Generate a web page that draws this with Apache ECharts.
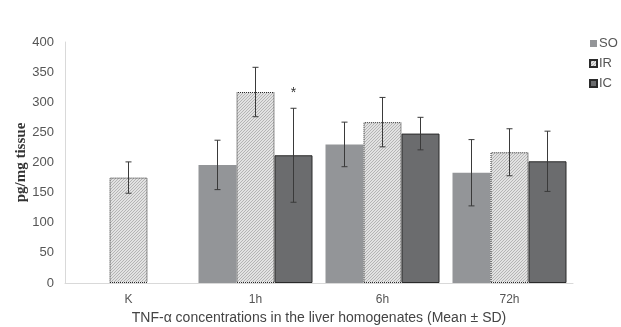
<!DOCTYPE html>
<html>
<head>
<meta charset="utf-8">
<script src="https://cdn.jsdelivr.net/npm/echarts@6/dist/echarts.min.js"></script>
<style>
  html, body { margin: 0; padding: 0; background: #fff; }
  #main { width: 621px; height: 327px; }
</style>
</head>
<body>
<div id="main"></div>
<script>
// data
let categories = ['K', '1h', '6h', '72h']
let soMean = [null, 196, 230, 183]
let soSD = [null, 41, 37, 55]
let irMean = [175, 317, 267, 217]
let irSD = [26, 41, 41, 39]
let icMean = [null, 212, 248, 202]
let icSD = [null, 78, 27, 50]
let icMarks = ['', '*', '', '']

let barW = 38

// fine diagonal hatch for IR
function hatch () {
  let c = document.createElement('canvas')
  c.width = 3
  c.height = 3
  let ctx = c.getContext('2d')
  ctx.fillStyle = '#e2e2e2'
  ctx.fillRect(0, 0, 3, 3)
  ctx.fillStyle = '#b4b4b4'
  ctx.fillRect(2, 0, 1, 1)
  ctx.fillRect(1, 1, 1, 1)
  ctx.fillRect(0, 2, 1, 1)
  return c
}

function errData (mean, sd, marks) {
  return mean.map(function (m, i) {
    if (m == null) return [i, null, null, '']
    return [i, m - sd[i], m + sd[i], marks ? marks[i] : '']
  })
}

function errSeries (mean, sd, idx, marks) {
  return {
    type: 'custom',
    name: 'err' + idx,
    data: errData(mean, sd, marks),
    z: 5,
    silent: true,
    renderItem: function (params, api) {
      if (api.value(1) == null || isNaN(api.value(1))) return
      let lo = api.coord([api.value(0), api.value(1)])
      let hi = api.coord([api.value(0), api.value(2)])
      let x = lo[0] + (idx - 1) * barW
      let cap = 3
      let st = { stroke: '#3a3a3a', lineWidth: 1 }
      let children = [
        { type: 'line', shape: { x1: x, y1: hi[1], x2: x, y2: lo[1] }, style: st },
        { type: 'line', shape: { x1: x - cap, y1: hi[1], x2: x + cap, y2: hi[1] }, style: st },
        { type: 'line', shape: { x1: x - cap, y1: lo[1], x2: x + cap, y2: lo[1] }, style: st }
      ]
      let mark = api.value(3)
      if (mark) {
        children.push({
          type: 'text',
          style: { text: mark, x: x, y: hi[1] - 22, align: 'center', verticalAlign: 'top', fontSize: 14, fontFamily: 'Arial', fill: '#333' }
        })
      }
      return { type: 'group', children: children }
    }
  }
}

let chart = echarts.init(document.getElementById('main'))
chart.setOption({
  animation: false,
  backgroundColor: '#fff',
  grid: { left: 65, right: 48, top: 42, bottom: 44, outerBoundsMode: 'none', containLabel: false },
  legend: {
    data: ['SO', 'IR', 'IC'],
    orient: 'vertical',
    left: 584,
    top: 32,
    itemWidth: 7,
    itemHeight: 7,
    itemGap: 7,
    icon: 'rect',
    textStyle: { fontFamily: 'Arial', fontSize: 13, color: '#555', padding: [0, 0, 0, -3] }
  },
  xAxis: {
    type: 'category',
    data: categories,
    axisLine: { lineStyle: { color: '#d9d9d9' } },
    axisTick: { show: false },
    axisLabel: { fontFamily: 'Arial', fontSize: 12, color: '#555', margin: 11 },
    name: 'TNF-\u03b1 concentrations in the liver homogenates (Mean \u00b1 SD)',
    nameLocation: 'middle',
    nameGap: 28,
    nameMoveOverlap: false,
    nameTextStyle: { fontFamily: 'Arial', fontSize: 14, color: '#444' }
  },
  yAxis: {
    type: 'value',
    min: 0,
    max: 400,
    interval: 50,
    axisLine: { show: true, lineStyle: { color: '#d9d9d9' } },
    axisTick: { show: false },
    splitLine: { show: false },
    axisLabel: { fontFamily: 'Arial', fontSize: 13, color: '#555', margin: 11 },
    name: 'pg/mg tissue',
    nameLocation: 'middle',
    nameGap: 36,
    nameMoveOverlap: false,
    nameTextStyle: { fontFamily: 'Liberation Serif', fontWeight: 'bold', fontSize: 15, color: '#333' }
  },
  series: [
    {
      name: 'SO', type: 'bar', data: soMean, barWidth: barW, barGap: '0%',
      itemStyle: { color: '#939598' }
    },
    {
      name: 'IR', type: 'bar', data: irMean, barWidth: barW, barGap: '0%',
      itemStyle: { color: { image: hatch(), repeat: 'repeat' }, borderColor: '#2a2a2a', borderWidth: 1, borderType: 'dotted' }
    },
    {
      name: 'IC', type: 'bar', data: icMean, barWidth: barW, barGap: '0%',
      itemStyle: { color: '#6b6c6e', borderColor: '#2a2a2a', borderWidth: 1 }
    },
    errSeries(soMean, soSD, 0),
    errSeries(irMean, irSD, 1),
    errSeries(icMean, icSD, 2, icMarks)
  ]
})
</script>
</body>
</html>
